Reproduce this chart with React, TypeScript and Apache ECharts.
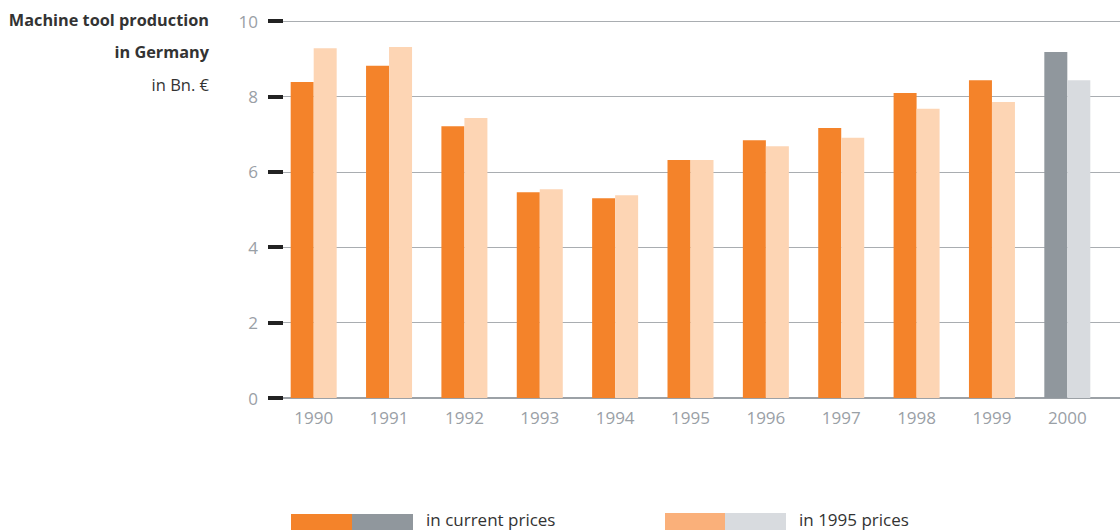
import React, { useEffect, useRef } from "react";
import * as echarts from "echarts";

const years = ["1990", "1991", "1992", "1993", "1994", "1995", "1996", "1997", "1998", "1999", "2000"];
const currentPrices = [8.38, 8.81, 7.21, 5.46, 5.3, 6.31, 6.84, 7.16, 8.09, 8.43, 9.18];
const prices1995 = [9.28, 9.31, 7.43, 5.54, 5.38, 6.31, 6.68, 6.9, 7.67, 7.85, 8.43];
const yTicks = [0, 2, 4, 6, 8, 10];
const titleLines = ["Machine tool production", "in Germany", "in Bn. €"];
const legendLabels = ["in current prices", "in 1995 prices"];

const ORANGE = "#F4832A";
const PEACH = "#FDD5B4";
const GRAY = "#90979D";
const LIGHTGRAY = "#D8DBDF";
const LEG_PEACH = "#FAB07A";
const FONT = "'Open Sans', 'Noto Sans', sans-serif";
const LABEL = "#9AA0A6";

export default function App() {
  const ref = useRef<HTMLDivElement>(null);
  useEffect(() => {
    document.body.style.margin = "0";
    const chart = echarts.init(ref.current!, null, { renderer: "svg" });
    const lastIdx = years.length - 1;
    const cur = currentPrices.map((v, i) =>
      i === lastIdx ? { value: v, itemStyle: { color: GRAY } } : v
    );
    const p95 = prices1995.map((v, i) =>
      i === lastIdx ? { value: v, itemStyle: { color: LIGHTGRAY } } : v
    );
    chart.setOption({
      animation: false,
      grid: [
        { left: 276, right: 15, top: 21, bottom: 132, outerBoundsMode: "none", containLabel: false },
        { left: 283, right: 0, top: 21, bottom: 132, outerBoundsMode: "none", containLabel: false },
      ],
      xAxis: [
        {
          type: "category",
          gridIndex: 0,
          data: years,
          axisLine: { show: false },
          axisTick: { show: false },
          axisLabel: { color: LABEL, fontSize: 17, fontFamily: FONT, margin: 11 },
        },
        {
          type: "value",
          gridIndex: 1,
          min: 0,
          max: 1,
          axisLine: { show: true, onZero: false, lineStyle: { color: "#9CA1A6", width: 2 } },
          axisTick: { show: false },
          axisLabel: { show: false },
          splitLine: { show: false },
        },
      ],
      yAxis: [
        { type: "value", gridIndex: 0, min: 0, max: 10, show: false },
        {
          type: "value",
          gridIndex: 1,
          min: 0,
          max: 10,
          interval: 2,
          axisLine: { show: false },
          axisTick: { show: true, length: 15, lineStyle: { color: "#222", width: 4 } },
          axisLabel: {
            color: LABEL,
            fontSize: 17,
            fontFamily: FONT,
            margin: 25,
            formatter: (v: number) => (yTicks.includes(v) ? String(v) : ""),
          },
          splitLine: { show: true, lineStyle: { color: "#A9ADB1", width: 1 } },
        },
      ],
      series: [
        {
          name: legendLabels[0],
          type: "bar",
          xAxisIndex: 0,
          yAxisIndex: 0,
          data: cur,
          barWidth: 23,
          barGap: "0%",
          itemStyle: { color: ORANGE },
        },
        {
          name: legendLabels[1],
          type: "bar",
          xAxisIndex: 0,
          yAxisIndex: 0,
          data: p95,
          barWidth: 23,
          barGap: "0%",
          itemStyle: { color: PEACH },
        },
      ],
      graphic: [
        {
          type: "text",
          right: 1120 - 209,
          top: 12,
          style: { text: titleLines[0], font: `bold 16.3px ${FONT}`, fill: "#333", textAlign: "right" },
        },
        {
          type: "text",
          right: 1120 - 209,
          top: 44,
          style: { text: titleLines[1], font: `bold 16.3px ${FONT}`, fill: "#333", textAlign: "right" },
        },
        {
          type: "text",
          right: 1120 - 209,
          top: 76,
          style: { text: titleLines[2], font: `16.5px ${FONT}`, fill: "#333", textAlign: "right" },
        },
        { type: "rect", shape: { x: 291, y: 514, width: 61, height: 16 }, style: { fill: ORANGE } },
        { type: "rect", shape: { x: 352, y: 514, width: 61, height: 16 }, style: { fill: GRAY } },
        {
          type: "text",
          left: 426,
          top: 511,
          style: { text: legendLabels[0], font: `17px ${FONT}`, fill: "#333" },
        },
        { type: "rect", shape: { x: 665, y: 513, width: 60, height: 17 }, style: { fill: LEG_PEACH } },
        { type: "rect", shape: { x: 725, y: 513, width: 61, height: 17 }, style: { fill: LIGHTGRAY } },
        {
          type: "text",
          left: 799,
          top: 511,
          style: { text: legendLabels[1], font: `17px ${FONT}`, fill: "#333" },
        },
      ],
    });
    return () => chart.dispose();
  }, []);
  return <div ref={ref} style={{ width: 1120, height: 530 }} />;
}
